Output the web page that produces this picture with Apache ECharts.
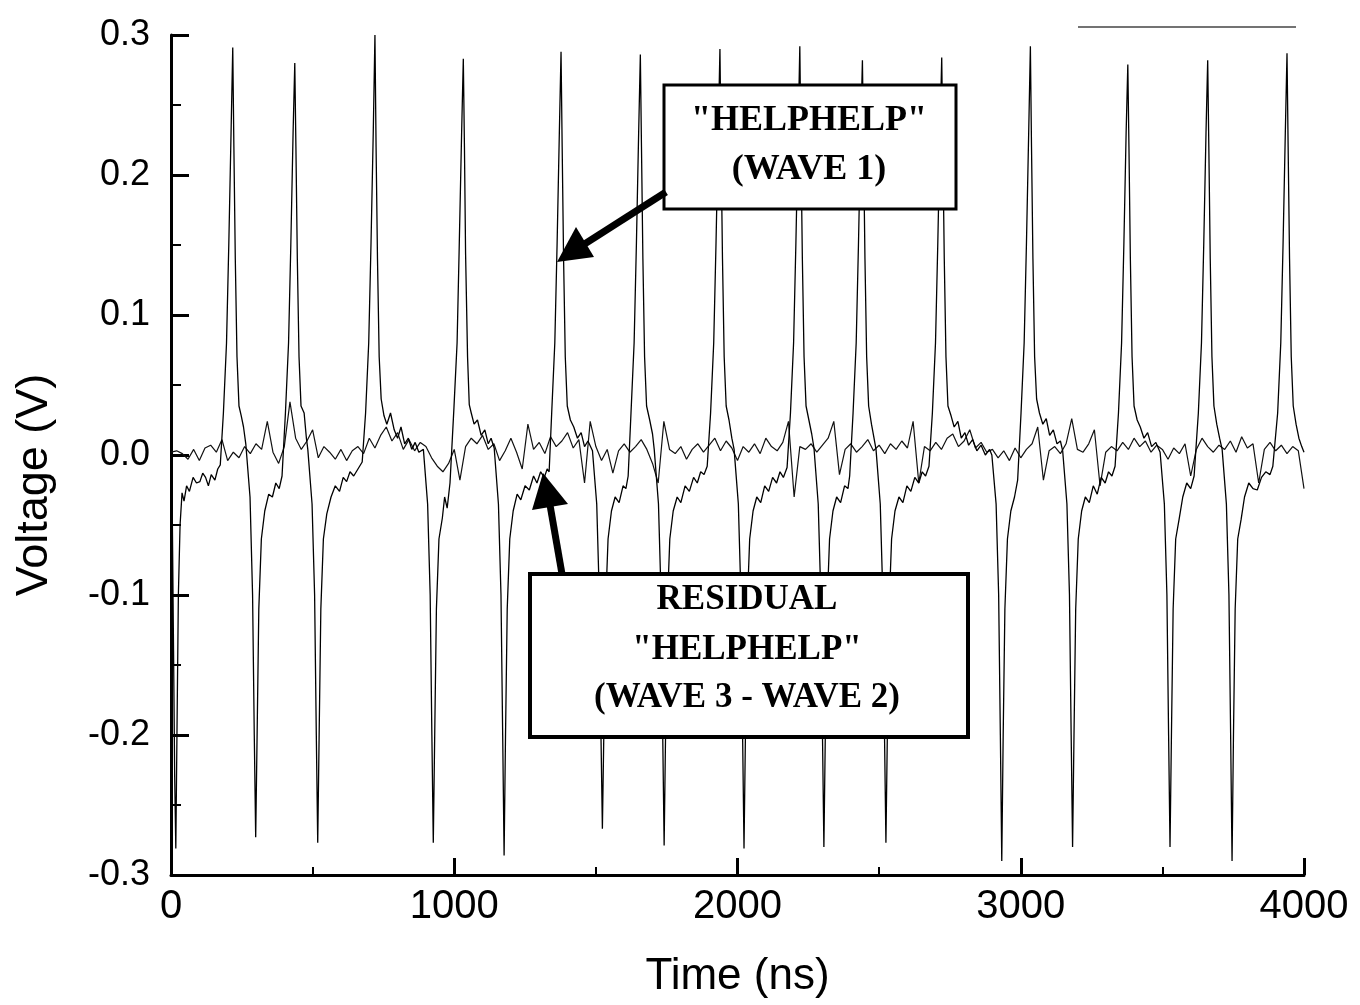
<!DOCTYPE html>
<html>
<head>
<meta charset="utf-8">
<title>HELPHELP</title>
<script src="https://cdn.jsdelivr.net/npm/echarts@6/dist/echarts.min.js"></script>
<style>
	html,body{margin:0;padding:0;background:#fff;}
	#main{width:1360px;height:1005px;}
</style>
</head>
<body>
<div id="main"></div>
<script>
//wave 1 : [time ns, voltage V]
var wave1 = [
	[0,0.001],[4,-0.03],[9,-0.14],[13,-0.23],[17,-0.281],[21,-0.2],[26,-0.1],[32,-0.05],[39,-0.027],[46,-0.033],[55,-0.022],[65,-0.026],[78,-0.016],[90,-0.02],[102,-0.019],[112,-0.013],[122,-0.016],[132,-0.022],[142,-0.014],[155,-0.018],[165,-0.01],[174,-0.007],
	[185,0.03],[196,0.08],[204,0.15],[212,0.23],[218,0.291],[222,0.22],[227,0.14],[233,0.07],[240,0.035],[248,0.028],[256,0.02],
	[264,0.008],[279,-0.03],[288,-0.1],[294,-0.2],[299,-0.273],[304,-0.2],[310,-0.11],[319,-0.06],[331,-0.04],[345,-0.028],[358,-0.03],[370,-0.02],[382,-0.024],[392,-0.015],
	[404,0.03],[415,0.08],[423,0.15],[431,0.23],[437,0.280],[441,0.22],[446,0.14],[452,0.07],[459,0.035],[470,0.03],[478,0.012],
	[483,0.004],[498,-0.035],[507,-0.1],[513,-0.2],[518,-0.277],[523,-0.2],[529,-0.11],[538,-0.06],[550,-0.042],[565,-0.03],[580,-0.022],[595,-0.026],[608,-0.016],[620,-0.019],[632,-0.012],[645,-0.015],[660,-0.01],[675,-0.005],
	[687,0.03],[698,0.08],[706,0.15],[714,0.23],[720,0.300],[724,0.22],[729,0.14],[735,0.07],[742,0.04],[752,0.028],[762,0.022],[775,0.03],[788,0.018],[800,0.012],[812,0.02],[825,0.008],[838,0.012],[850,0.004],[862,0.009],[875,0.002],[891,0.004],
	[906,-0.035],[915,-0.1],[921,-0.2],[926,-0.277],[931,-0.2],[937,-0.11],[946,-0.06],[958,-0.045],[966,-0.03],[975,-0.038],[985,-0.02],
	[999,0.034],[1010,0.08],[1017,0.144],[1026,0.23],[1032,0.283],[1036,0.22],[1040,0.144],[1047,0.07],[1053,0.036],[1060,0.03],[1070,0.022],[1082,0.025],[1095,0.014],[1108,0.018],[1120,0.008],[1130,0.012],[1141,0.005],
	[1156,-0.035],[1165,-0.1],[1171,-0.2],[1176,-0.286],[1181,-0.2],[1187,-0.11],[1196,-0.06],[1208,-0.04],[1222,-0.028],[1235,-0.032],[1250,-0.022],[1265,-0.025],[1280,-0.015],[1292,-0.02],[1305,-0.012],[1318,-0.016],[1328,-0.01],[1335,-0.012],
	[1344,0.03],[1355,0.08],[1363,0.15],[1371,0.23],[1377,0.288],[1381,0.22],[1386,0.14],[1392,0.07],[1399,0.035],[1410,0.025],[1422,0.02],[1435,0.012],[1448,0.016],[1460,0.006],[1472,0.01],[1488,0.003],
	[1503,-0.035],[1512,-0.1],[1518,-0.2],[1523,-0.267],[1528,-0.2],[1534,-0.11],[1543,-0.06],[1555,-0.04],[1568,-0.03],[1582,-0.034],[1596,-0.022],[1606,-0.024],[1614,-0.015],
	[1624,0.03],[1635,0.08],[1643,0.15],[1651,0.23],[1657,0.286],[1661,0.22],[1666,0.14],[1672,0.07],[1679,0.035],[1690,0.025],[1700,0.015],[1706,0.004],
	[1721,-0.035],[1730,-0.1],[1736,-0.2],[1741,-0.279],[1746,-0.2],[1752,-0.11],[1761,-0.06],[1773,-0.04],[1787,-0.03],[1800,-0.034],[1815,-0.022],[1830,-0.026],[1845,-0.016],[1858,-0.02],[1870,-0.012],[1882,-0.014],[1893,-0.008],
	[1905,0.03],[1916,0.08],[1924,0.15],[1932,0.23],[1938,0.290],[1942,0.22],[1947,0.14],[1953,0.07],[1960,0.035],[1970,0.025],[1980,0.012],[1988,0.004],
	[2003,-0.035],[2012,-0.1],[2018,-0.2],[2023,-0.281],[2028,-0.2],[2034,-0.11],[2043,-0.06],[2055,-0.04],[2068,-0.03],[2082,-0.034],[2096,-0.022],[2110,-0.026],[2124,-0.016],[2138,-0.02],[2150,-0.012],[2162,-0.016],[2175,-0.009],
	[2187,0.03],[2198,0.08],[2206,0.15],[2214,0.23],[2220,0.292],[2224,0.22],[2229,0.14],[2235,0.07],[2242,0.035],[2252,0.025],[2262,0.015],[2270,0.005],
	[2285,-0.035],[2294,-0.1],[2300,-0.2],[2305,-0.280],[2310,-0.2],[2316,-0.11],[2325,-0.06],[2337,-0.04],[2350,-0.03],[2364,-0.034],[2378,-0.022],[2390,-0.024],[2396,-0.015],
	[2408,0.03],[2419,0.08],[2427,0.15],[2435,0.23],[2441,0.282],[2445,0.22],[2450,0.14],[2456,0.07],[2463,0.035],[2473,0.022],[2482,0.012],[2489,0.004],
	[2504,-0.035],[2513,-0.1],[2519,-0.2],[2524,-0.277],[2529,-0.2],[2535,-0.11],[2544,-0.06],[2556,-0.04],[2570,-0.03],[2584,-0.034],[2598,-0.022],[2612,-0.026],[2626,-0.016],[2640,-0.02],[2652,-0.012],[2664,-0.015],[2676,-0.008],
	[2688,0.03],[2699,0.08],[2707,0.15],[2715,0.23],[2721,0.284],[2725,0.22],[2730,0.14],[2736,0.07],[2743,0.035],[2754,0.028],[2765,0.02],[2778,0.024],[2790,0.012],[2803,0.016],[2816,0.007],[2830,0.011],[2845,0.003],[2860,0.007],[2875,0.0],[2890,0.004],[2898,0.0],
	[2913,-0.035],[2922,-0.1],[2928,-0.2],[2933,-0.290],[2938,-0.2],[2944,-0.11],[2953,-0.06],[2965,-0.04],[2978,-0.03],[2989,-0.018],
	[3001,0.03],[3012,0.08],[3020,0.15],[3028,0.23],[3034,0.292],[3038,0.22],[3043,0.14],[3049,0.07],[3056,0.04],[3066,0.03],[3078,0.022],[3090,0.026],[3102,0.014],[3115,0.018],[3128,0.008],[3140,0.01],[3148,0.003],
	[3163,-0.035],[3172,-0.1],[3178,-0.2],[3183,-0.280],[3188,-0.2],[3194,-0.11],[3203,-0.06],[3215,-0.04],[3228,-0.03],[3242,-0.034],[3256,-0.022],[3270,-0.028],[3284,-0.016],[3298,-0.02],[3310,-0.012],[3322,-0.015],[3333,-0.008],
	[3345,0.03],[3356,0.08],[3364,0.15],[3372,0.23],[3378,0.279],[3382,0.22],[3387,0.14],[3393,0.07],[3400,0.035],[3411,0.025],[3422,0.02],[3435,0.012],[3448,0.016],[3462,0.006],[3477,0.009],[3492,0.002],
	[3507,-0.035],[3516,-0.1],[3522,-0.2],[3527,-0.280],[3532,-0.2],[3538,-0.11],[3547,-0.06],[3559,-0.046],[3572,-0.03],[3586,-0.02],[3600,-0.024],[3612,-0.015],
	[3627,0.03],[3638,0.08],[3646,0.15],[3654,0.23],[3660,0.282],[3664,0.22],[3669,0.14],[3675,0.07],[3682,0.035],[3692,0.022],[3702,0.012],[3711,0.004],
	[3726,-0.035],[3735,-0.1],[3741,-0.2],[3746,-0.290],[3751,-0.2],[3757,-0.11],[3766,-0.06],[3778,-0.046],[3790,-0.03],[3805,-0.02],[3820,-0.024],[3835,-0.025],[3850,-0.016],[3865,-0.012],[3880,-0.014],[3890,-0.008],
	[3907,0.03],[3918,0.08],[3926,0.15],[3934,0.23],[3940,0.287],[3944,0.22],[3949,0.14],[3955,0.07],[3962,0.035],[3972,0.022],[3982,0.012],[3992,0.006],[4000,0.002]
];
//residual (wave 3 - wave 2), one sample every resStep ns
var resStep = 20;
var residual = [
	0.002,0.003,0.001,-0.003,0.004,-0.004,0.005,0.007,0.002,0.011,
	-0.004,0.002,-0.002,0.006,0.001,0.008,0.004,0.024,0.002,-0.006,
	0.006,0.038,0.012,0.004,0.010,0.018,-0.002,0.006,0.002,-0.003,
	0.004,-0.004,0.003,0.006,0.001,0.012,0.005,0.014,0.020,0.010,
	0.016,0.004,0.011,0.003,0.009,0.006,-0.002,-0.008,-0.012,-0.006,
	0.004,-0.018,0.006,0.012,0.008,0.014,0.004,0.008,-0.004,0.003,
	0.012,0.002,-0.010,0.022,0.004,0.009,0.001,0.013,0.006,0.010,
	0.016,0.005,0.011,-0.020,0.024,0.006,-0.004,0.004,-0.013,0.003,
	0.008,0.002,0.006,0.011,0.004,-0.006,-0.020,0.024,0.004,0.001,
	0.006,-0.003,0.004,0.008,0.002,0.007,0.012,0.003,0.010,0.005,
	-0.004,0.006,0.002,0.008,0.001,0.012,0.006,0.003,0.009,0.024,
	-0.030,0.006,0.004,0.008,0.002,0.007,0.012,0.024,-0.014,0.004,
	0.008,0.002,0.006,0.011,0.003,0.007,0.001,0.008,0.004,0.010,
	0.005,0.024,-0.020,0.006,0.003,0.009,0.004,0.012,0.015,0.006,
	0.010,0.018,0.005,0.009,0.002,0.004,-0.002,0.003,-0.004,0.005,
	-0.002,0.004,0.008,0.020,-0.018,0.003,0.006,0.001,0.008,0.026,
	0.004,0.002,0.008,0.018,-0.022,0.002,0.006,0.003,0.009,0.004,
	0.012,0.006,0.010,0.002,0.007,0.004,-0.003,0.005,0.001,0.008,
	-0.015,0.004,0.012,0.006,0.002,0.007,0.004,0.010,0.002,0.013,
	0.005,0.008,-0.020,0.004,0.009,0.003,0.007,0.001,0.006,0.003,
	-0.024
];
//axis ticks
var xTicks = {min:0, max:4000, step:1000};
var yTicks = {min:-0.3, max:0.3, step:0.1};

window.onload = function(){
	initChart();
};

function initChart(){
	var myChart = echarts.init(document.getElementById('main'), null, {renderer:'canvas'});
	var resData = residual.map(function(v, i){ return [i * resStep, v]; });
	var option = {
		backgroundColor:'#fff',
		animation:false,
		grid:{left:171, right:56, top:35, bottom:130},
		xAxis:{
			type:'value',
			min:xTicks.min, max:xTicks.max, interval:xTicks.step,
			name:'Time (ns)', nameLocation:'middle', nameGap:80,
			nameTextStyle:{fontFamily:'Liberation Sans', fontSize:44, color:'#000'},
			axisLine:{show:true, onZero:false, lineStyle:{color:'#000', width:3}},
			axisTick:{show:true, inside:true, length:17, lineStyle:{color:'#000', width:3}},
			minorTick:{show:true, splitNumber:2, length:8, lineStyle:{color:'#000', width:2}},
			axisLabel:{
				fontFamily:'Liberation Sans', fontSize:40, color:'#000', margin:12,
				formatter:function(v){ return String(v); }
			},
			splitLine:{show:false}
		},
		yAxis:{
			type:'value',
			min:yTicks.min, max:yTicks.max, interval:yTicks.step,
			axisLine:{show:true, onZero:false, lineStyle:{color:'#000', width:3}},
			axisTick:{show:true, inside:true, length:18, lineStyle:{color:'#000', width:3}},
			minorTick:{show:true, splitNumber:2, length:10, lineStyle:{color:'#000', width:2}},
			axisLabel:{
				fontFamily:'Liberation Sans', fontSize:36, color:'#000', margin:21,
				formatter:function(v){ return Math.abs(v) < 1e-9 ? '0.0' : v.toFixed(1); }
			},
			splitLine:{show:false}
		},
		series:[
			{
				name:'RESIDUAL', type:'line', data:resData,
				showSymbol:false, symbol:'none', clip:true,
				lineStyle:{color:'#111', width:1.2}
			},
			{
				name:'WAVE 1', type:'line', data:wave1,
				showSymbol:false, symbol:'none', clip:true,
				lineStyle:{color:'#000', width:1.3}
			}
		],
		graphic:[
			//y axis title
			{type:'text', x:35, y:485, rotation:Math.PI/2, z:100,
				style:{text:'Voltage (V)', fontFamily:'Liberation Sans', fontSize:45, fill:'#000', align:'center', verticalAlign:'middle'}},
			//stray legend stroke top right
			{type:'line', z:100, shape:{x1:1078, y1:27, x2:1296, y2:27}, style:{stroke:'#444', lineWidth:1.5}},
			//label box wave 1
			{type:'rect', z:100, shape:{x:664, y:85, width:292, height:124}, style:{fill:'#fff', stroke:'#000', lineWidth:3}},
			{type:'text', x:809, y:121, z:101,
				style:{text:'"HELPHELP"', fontFamily:'Liberation Serif', fontWeight:'bold', fontSize:36, fill:'#000', align:'center', verticalAlign:'middle'}},
			{type:'text', x:809, y:170, z:101,
				style:{text:'(WAVE 1)', fontFamily:'Liberation Serif', fontWeight:'bold', fontSize:36, fill:'#000', align:'center', verticalAlign:'middle'}},
			{type:'line', z:101, shape:{x1:666, y1:192, x2:583, y2:245}, style:{stroke:'#000', lineWidth:7}},
			{type:'polygon', z:101, shape:{points:[[557,262],[576,227],[594,257]]}, style:{fill:'#000'}},
			//label box residual
			{type:'rect', z:100, shape:{x:530, y:574, width:438, height:163}, style:{fill:'#fff', stroke:'#000', lineWidth:4}},
			{type:'text', x:747, y:600, z:101,
				style:{text:'RESIDUAL', fontFamily:'Liberation Serif', fontWeight:'bold', fontSize:35, fill:'#000', align:'center', verticalAlign:'middle'}},
			{type:'text', x:747, y:650, z:101,
				style:{text:'"HELPHELP"', fontFamily:'Liberation Serif', fontWeight:'bold', fontSize:35, fill:'#000', align:'center', verticalAlign:'middle'}},
			{type:'text', x:747, y:698, z:101,
				style:{text:'(WAVE 3 - WAVE 2)', fontFamily:'Liberation Serif', fontWeight:'bold', fontSize:35, fill:'#000', align:'center', verticalAlign:'middle'}},
			{type:'line', z:101, shape:{x1:562, y1:574, x2:550, y2:505}, style:{stroke:'#000', lineWidth:7}},
			{type:'polygon', z:101, shape:{points:[[543,473],[532,510],[568,504]]}, style:{fill:'#000'}}
		]
	};
	myChart.setOption(option);
}
</script>
</body>
</html>
